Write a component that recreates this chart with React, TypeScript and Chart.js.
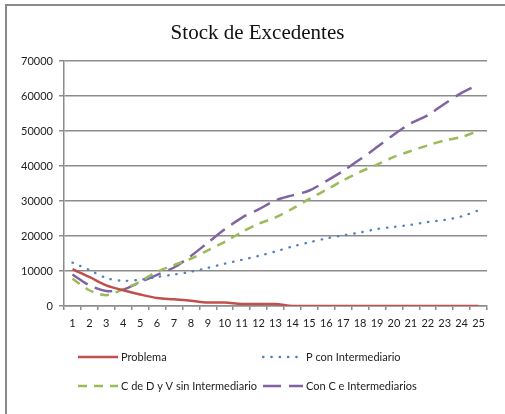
import React, { useEffect, useRef } from "react";
import { Chart, registerables } from "chart.js";

Chart.register(...registerables);

const categories = ["1","2","3","4","5","6","7","8","9","10","11","12","13","14","15","16","17","18","19","20","21","22","23","24","25"];

const problema = [10500, 8300, 5900, 4500, 3300, 2300, 1900, 1500, 1000, 1000, 600, 600, 600, 0, 0, 0, 0, 0, 0, 0, 0, 0, 0, 0, 0];
const pConIntermediario = [12400, 10300, 8000, 7200, 7500, 8300, 9000, 9800, 10900, 12100, 13200, 14300, 15600, 17000, 18200, 19300, 20200, 21000, 22000, 22600, 23200, 24000, 24600, 25600, 27300];
const cDeDyVSinIntermediario = [7800, 4500, 3100, 4800, 7000, 9800, 11700, 13500, 15900, 18300, 21100, 23500, 25300, 27800, 30600, 33200, 35900, 38300, 40400, 42600, 44300, 45900, 47300, 48300, 50000];
const conCeIntermediarios = [9000, 5900, 4300, 4700, 6800, 8900, 11000, 14300, 18100, 21900, 25200, 27600, 30200, 31600, 33000, 35700, 38600, 41900, 45400, 49000, 52200, 54500, 57800, 60900, 63300];

const seriesLabels = ["Problema", "P con Intermediario", "C de D y V sin Intermediario", "Con C e Intermediarios"];
const yTicks = { min: 0, max: 70000, step: 10000 };
const titleText = "Stock de Excedentes";

const legendPositions = [[78, 357], [263, 357], [78, 386], [263, 386]];

const titlePlugin = {
  id: "titleDraw",
  afterDraw(chart: any) {
    const ctx = chart.ctx;
    ctx.save();
    ctx.fillStyle = "#111";
    ctx.font = "21px 'Liberation Serif', 'DejaVu Serif', serif";
    ctx.textAlign = "center";
    ctx.textBaseline = "alphabetic";
    ctx.fillText(titleText, 257.5, 39);
    ctx.restore();
  },
};

const columnLegend = {
  id: "columnLegend",
  afterDraw(chart: any) {
    const ctx = chart.ctx;
    chart.data.datasets.forEach((ds: any, i: number) => {
      const [x, y] = legendPositions[i];
      ctx.save();
      ctx.strokeStyle = ds.borderColor;
      ctx.lineWidth = ds.borderWidth;
      ctx.setLineDash(ds.borderDash || []);
      ctx.lineCap = ds.borderCapStyle || "butt";
      ctx.beginPath();
      ctx.moveTo(x, y);
      ctx.lineTo(x + 40, y);
      ctx.stroke();
      ctx.setLineDash([]);
      ctx.fillStyle = "#222";
      ctx.font = "11px Lato";
      ctx.textBaseline = "middle";
      ctx.textAlign = "left";
      ctx.fillText(ds.label, x + 43, y);
      ctx.restore();
    });
  },
};

export default function App() {
  const ref = useRef<HTMLCanvasElement | null>(null);
  useEffect(() => {
    if (!ref.current) return;
    const chart = new Chart(ref.current, {
      type: "line",
      data: {
        labels: categories,
        datasets: [
          { label: seriesLabels[0], data: problema, borderColor: "#C0504D", backgroundColor: "#C0504D", borderWidth: 2.5, pointRadius: 0, cubicInterpolationMode: "monotone" },
          { label: seriesLabels[1], data: pConIntermediario, borderColor: "#4F81BD", backgroundColor: "#4F81BD", borderWidth: 2.3, borderDash: [0.5, 7.8], borderCapStyle: "round", pointRadius: 0, tension: 0.3 },
          { label: seriesLabels[2], data: cDeDyVSinIntermediario, borderColor: "#9BBB59", backgroundColor: "#9BBB59", borderWidth: 2.5, borderDash: [9, 7], pointRadius: 0, tension: 0.3 },
          { label: seriesLabels[3], data: conCeIntermediarios, borderColor: "#8064A2", backgroundColor: "#8064A2", borderWidth: 2.5, borderDash: [18, 8], pointRadius: 0, tension: 0.3 },
        ] as any,
      },
      options: {
        responsive: false,
        animation: false,
        layout: { padding: { left: 0, right: 18, top: 61, bottom: 0 } },
        plugins: {
          legend: { display: false },
          tooltip: { enabled: false },
          title: { display: false },
        },
        scales: {
          x: {
            type: "category",
            offset: true,
            grid: { display: true, drawOnChartArea: false, drawTicks: true, tickLength: 4, offset: true, color: "#8c8c8c", lineWidth: 1.5 },
            border: { color: "#8c8c8c", width: 1.5 },
            ticks: { color: "#222", font: { family: "Lato", size: 11 }, padding: 7, maxRotation: 0, autoSkip: false },
            afterFit: (s: any) => { s.height = 108; },
          },
          y: {
            min: yTicks.min,
            max: yTicks.max,
            grid: { color: "#8c8c8c", lineWidth: 1.5, tickLength: 5 },
            border: { color: "#8c8c8c", width: 1.5 },
            ticks: { stepSize: yTicks.step, color: "#222", font: { family: "Lato", size: 11 }, padding: 6, callback: (v: any) => String(v) },
            afterFit: (s: any) => { s.width = 64; },
          },
        },
      },
      plugins: [titlePlugin, columnLegend],
    });
    return () => chart.destroy();
  }, []);

  return (
    <div style={{ position: "absolute", left: 0, top: 0, width: 505, height: 414, overflow: "hidden", background: "#fff" }}>
      <div style={{ position: "absolute", left: 5, top: 4, width: 700, height: 700, borderLeft: "2px solid #8a8a8a", borderTop: "2px solid #8a8a8a" }} />
      <canvas ref={ref} width={505} height={414} style={{ position: "absolute", left: 0, top: 0, width: 505, height: 414 }} />
    </div>
  );
}
